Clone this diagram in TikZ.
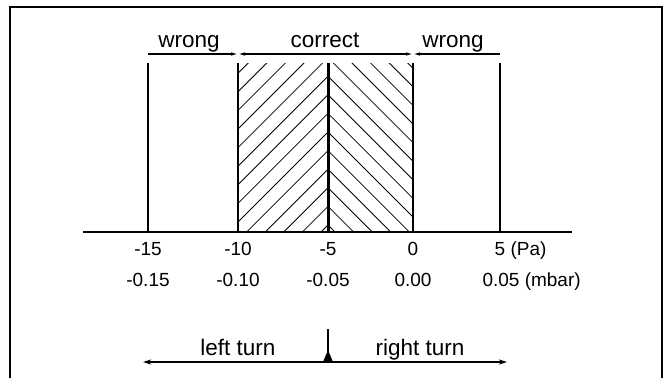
\documentclass[tikz,border=0pt]{standalone}
\usepackage{fontspec}
\setmainfont{Liberation Sans}
\usetikzlibrary{arrows.meta}
\begin{document}
\begin{tikzpicture}[x=1pt,y=-1pt,
  word/.style={anchor=base,inner sep=0pt,font=\fontsize{22.5}{27}\selectfont},
  num/.style={anchor=base,inner sep=0pt,font=\fontsize{19}{23}\selectfont},
  thin/.style={line width=1.2pt},
  frameline/.style={line width=2pt},
  toptip/.style={-{Latex[length=7pt,width=3.5pt]}},
  bothtip/.style={{Latex[length=7pt,width=3.5pt]}-{Latex[length=7pt,width=3.5pt]}},
  turntip/.style={{Stealth[length=8pt,width=5pt,inset=2pt]}-{Stealth[length=8pt,width=5pt,inset=2pt]}},
  hatch/.style={line width=0.8pt}]
\useasboundingbox (0,0) rectangle (665,378);
% frame
\coordinate (fbl) at (10,378);
\coordinate (ftl) at (10,7);
\coordinate (ftr) at (662,7);
\coordinate (fbr) at (662,378);
\draw[frameline] (fbl) -- (ftl) -- (ftr) -- (fbr);
% hatching
\begin{scope}
  \clip (238,63) rectangle (413,232);
  \foreach \k in {0,...,15}{
    \pgfmathsetmacro{\c}{225-18.6*\k}
    \draw[hatch] (128,\c+200) -- (328,\c) -- (528,\c+200);
  }
\end{scope}
% axis and vertical lines
\coordinate (axL) at (83,232);
\coordinate (axR) at (572,232);
\draw[thin] (axL) -- (axR);
\foreach \n/\x in {m15/148,m10/238,z/413,p5/500}{
  \coordinate (\n top) at (\x,63);
  \coordinate (\n bot) at (\x,232);
  \draw[thin] (\n top) -- (\n bot);
}
\coordinate (m5top) at (328,63);
\coordinate (m5bot) at (328,232);
\draw[line width=3pt] (m5top) -- (m5bot);
% range arrows
\coordinate (a15) at (148,54);
\coordinate (a10) at (238,54);
\coordinate (a0) at (413,54);
\coordinate (a5) at (500,54);
\draw[thin,toptip] (a15) -- (a10);
\draw[thin,bothtip] (a10) -- (a0);
\draw[thin,toptip] (a5) -- (a0);
\node[word] (w1) at (189,47) {wrong};
\node[word] (c1) at (325,47) {correct};
\node[word] (w2) at (453,47) {wrong};
% numbers
\node[num] (pa1) at (148,255) {-15};
\node[num] (pa2) at (238,255) {-10};
\node[num] (pa3) at (328,255) {-5};
\node[num] (pa4) at (413,255) {0};
\node[num] (pa5) at (500,255) {5\rlap{ (Pa)}};
\node[num] (mb1) at (148,286) {-0.15};
\node[num] (mb2) at (238,286) {-0.10};
\node[num] (mb3) at (328,286) {-0.05};
\node[num] (mb4) at (413,286) {0.00};
\node[num] (mb5) at (501,286) {0.05\rlap{ (mbar)}};
% turn arrow
\coordinate (tl) at (143,362);
\coordinate (tr) at (507,362);
\coordinate (tc) at (328,362);
\coordinate (tt) at (328,329);
\draw[thin,turntip] (tl) -- (tr);
\draw[thin] (tt) -- (tc);
\fill (323,362) -- (333,362) -- (328,350) -- cycle;
\node[word] (lt) at (238,355) {left turn};
\node[word] (rt) at (420,355) {right turn};
\end{tikzpicture}
\end{document}
